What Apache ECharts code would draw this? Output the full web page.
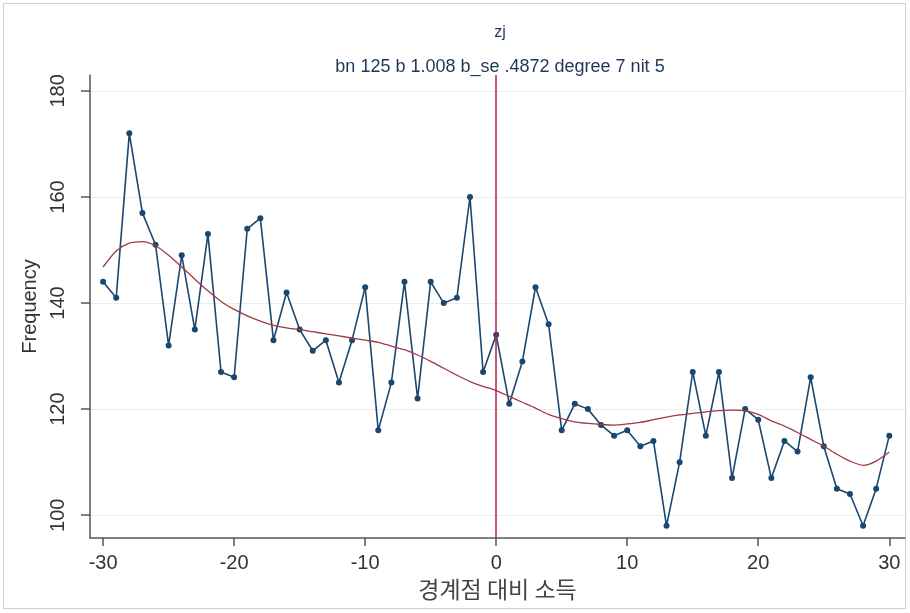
<!DOCTYPE html>
<html><head><meta charset="utf-8">
<script src="https://cdn.jsdelivr.net/npm/echarts@6/dist/echarts.min.js"></script>
<style>html,body{margin:0;padding:0;background:#fff}
#frame{position:absolute;left:3px;top:3px;width:903px;height:606px;border:1px solid #d0d0d0;box-sizing:border-box}
#c{position:absolute;left:0;top:0;width:910px;height:613px}</style>
</head><body><div id="frame"></div><div id="c"></div>
<script>
const xValues = [-30,-29,-28,-27,-26,-25,-24,-23,-22,-21,-20,-19,-18,-17,-16,-15,-14,-13,-12,-11,-10,-9,-8,-7,-6,-5,-4,-3,-2,-1,0,1,2,3,4,5,6,7,8,9,10,11,12,13,14,15,16,17,18,19,20,21,22,23,24,25,26,27,28,29,30];
const frequency = [144,141,172,157,151,132,149,135,153,127,126,154,156,133,142,135,131,133,125,133,143,116,125,144,122,144,140,141,160,127,134,121,129,143,136,116,121,120,117,115,116,113,114,98,110,127,115,127,107,120,118,107,114,112,126,113,105,104,98,105,115];
const fitted = [146.8,149.8,151.3,151.6,150.8,149,146.8,144.5,142.3,140.3,138.8,137.6,136.6,135.8,135.3,135,134.6,134.2,133.8,133.4,133,132.6,131.9,131.2,130.2,129,127.7,126.4,125.2,124.3,123.5,122.4,121.3,120.2,119,118.2,117.6,117.3,117.1,117,117.2,117.5,118,118.5,118.9,119.2,119.5,119.7,119.8,119.7,119,117.8,116.8,115.6,114.3,113,111.5,110.2,109.4,110.2,111.9];
const xTicks = [-30,-20,-10,0,10,20,30];
const yTicks = [100,120,140,160,180];
const cutoff = 0;
const titleText = 'zj';
const subtitleText = 'bn 125 b 1.008 b_se .4872 degree 7 nit 5';

const chart = echarts.init(document.getElementById('c'));
chart.setOption({
  animation:false,
  backgroundColor:'transparent',
  title:[
    {text:titleText,left:495,textAlign:'center',top:20,textStyle:{fontFamily:'Liberation Sans, Arial',fontSize:16,fontWeight:'normal',color:'#1f3655'}},
    {text:subtitleText,left:495,textAlign:'center',top:53,textStyle:{fontFamily:'Liberation Sans, Arial',fontSize:18,fontWeight:'normal',color:'#1f3655'}}
  ],
  grid:{left:90,right:5,top:75,bottom:75},
  xAxis:{type:'value',min:-31,max:31.2,
    name:'경계점 대비 소득',nameLocation:'middle',nameGap:37,
    nameTextStyle:{fontFamily:'Noto Sans CJK KR',fontSize:23,color:'#444'},
    axisLine:{onZero:false,lineStyle:{color:'#555',width:1.5}},
    axisTick:{show:true,length:8,customValues:xTicks,lineStyle:{color:'#555',width:1.5}},
    axisLabel:{customValues:xTicks,fontFamily:'Liberation Sans, Arial',fontSize:20,color:'#333',margin:15},
    splitLine:{show:false}},
  yAxis:{type:'value',min:95.7,max:183,
    name:'Frequency',nameLocation:'middle',nameGap:48,nameRotate:90,
    nameTextStyle:{fontFamily:'Liberation Sans, Arial',fontSize:20,color:'#333'},
    axisLine:{show:true,onZero:false,lineStyle:{color:'#555',width:1.5}},
    axisTick:{show:true,length:9,customValues:yTicks,lineStyle:{color:'#555',width:1.5}},
    axisLabel:{customValues:yTicks,rotate:90,fontFamily:'Liberation Sans, Arial',fontSize:20,color:'#333',margin:22},
    splitLine:{show:true,customValues:yTicks,lineStyle:{color:'#ececec',width:1}}},
  series:[
    {type:'line',data:xValues.map((x,i)=>[x,frequency[i]]),symbol:'circle',symbolSize:6,
      itemStyle:{color:'#1a476f'},lineStyle:{color:'#1a476f',width:1.6},z:3,
      markLine:{silent:true,symbol:['none','none'],label:{show:false},
        lineStyle:{color:'#b0204f',width:1.5,type:'solid'},
        data:[[{coord:[cutoff,95.7]},{coord:[cutoff,183]}]]}},
    {type:'line',data:xValues.map((x,i)=>[x,fitted[i]]),symbol:'none',smooth:0.25,
      lineStyle:{color:'#a03a40',width:1.3},z:4}
  ]
});
</script></body></html>
